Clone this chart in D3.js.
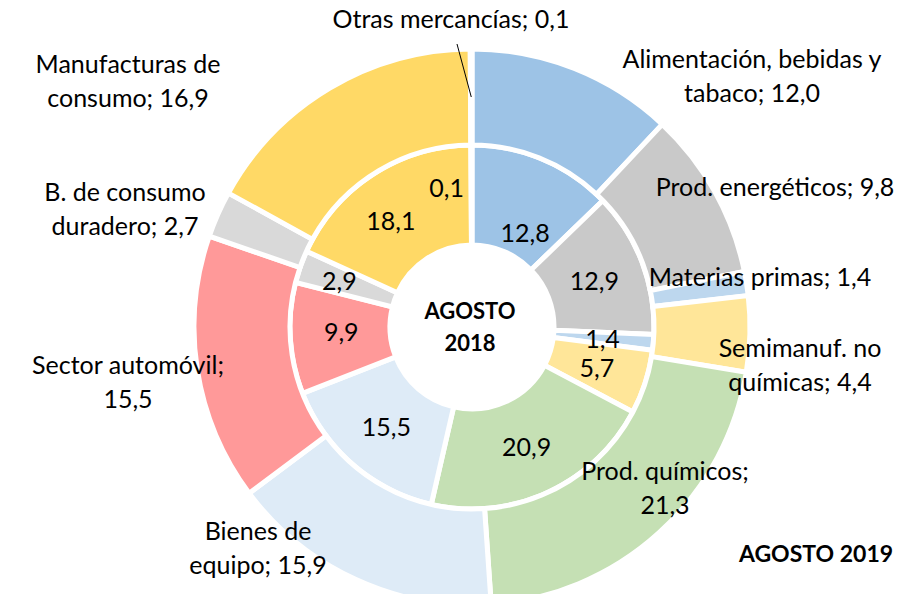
<!DOCTYPE html>
<html>
<head>
<meta charset="utf-8">
<script src="https://cdn.jsdelivr.net/npm/d3@7"></script>
<style>
	body { margin: 0; background: #fff; }
	svg text { font-family: Lato, "Open Sans", sans-serif; fill: #000; }
</style>
</head>
<body>
<script>
var categories = ['Alimentación, bebidas y tabaco', 'Prod. energéticos', 'Materias primas', 'Semimanuf. no químicas', 'Prod. químicos', 'Bienes de equipo', 'Sector automóvil', 'B. de consumo duradero', 'Manufacturas de consumo', 'Otras mercancías'];
var values2018 = [12.8, 12.9, 1.4, 5.7, 20.9, 15.5, 9.9, 2.9, 18.1, 0.1];
var values2019 = [12.0, 9.8, 1.4, 4.4, 21.3, 15.9, 15.5, 2.7, 16.9, 0.1];
// outer label lines as they are broken in the chart
var outerLabelLines = [
	['Alimentación, bebidas y', 'tabaco; 12,0'],
	['Prod. energéticos; 9,8'],
	['Materias primas; 1,4'],
	['Semimanuf. no', 'químicas; 4,4'],
	['Prod. químicos;', '21,3'],
	['Bienes de', 'equipo; 15,9'],
	['Sector automóvil;', '15,5'],
	['B. de consumo', 'duradero; 2,7'],
	['Manufacturas de', 'consumo; 16,9'],
	['Otras mercancías; 0,1']
];
var innerTitle = ['AGOSTO', '2018'];
var outerTitle = 'AGOSTO 2019';

var colors = ['#9dc3e6', '#c9c9c9', '#bdd7ee', '#ffe699', '#c5e0b4', '#deebf7', '#ff9999', '#d9d9d9', '#ffd966', '#ffd966'];

// label layout (not data)
var outerLabelPos = [[752, 58], [775, 186], [760, 276], [800, 347], [665, 470], [258, 530], [128, 364], [125, 191], [128, 63], [451, 18]];
var innerLabelShift = [[2, 26], [0, 0], [0, 0], [0, 0], [0, 0], [0, 0], [0, -4], [-9, -3], [-10, 3], [-25, -9]];

var width = 917, height = 594;
var cx = 472, cy = 327;
var fontSize = 25, lineH = 33.5;

var svg = d3.select('body')
	.append('svg')
	.attr('width', width)
	.attr('height', height);

var g = svg.append('g')
	.attr('transform', 'translate(' + cx + ',' + cy + ')');

var pie = d3.pie()
	.sort(null)
	.value(function(d) { return d; });

var innerArc = d3.arc().innerRadius(82).outerRadius(182);
var outerArc = d3.arc().innerRadius(182).outerRadius(278);
var labelArc = d3.arc().innerRadius(131).outerRadius(131);

var innerData = pie(values2018);
var outerData = pie(values2019);

g.selectAll('path.inner')
	.data(innerData)
	.enter()
	.append('path')
	.attr('class', 'inner')
	.attr('d', innerArc)
	.attr('fill', function(d, i) { return colors[i]; })
	.attr('stroke', '#fff')
	.attr('stroke-width', 5);

g.selectAll('path.outer')
	.data(outerData)
	.enter()
	.append('path')
	.attr('class', 'outer')
	.attr('d', outerArc)
	.attr('fill', function(d, i) { return colors[i]; })
	.attr('stroke', '#fff')
	.attr('stroke-width', 5);

// inner value labels
g.selectAll('text.inner-label')
	.data(innerData)
	.enter()
	.append('text')
	.attr('class', 'inner-label')
	.attr('text-anchor', 'middle')
	.attr('dominant-baseline', 'central')
	.attr('font-size', fontSize)
	.attr('x', function(d, i) { return labelArc.centroid(d)[0] + innerLabelShift[i][0]; })
	.attr('y', function(d, i) { return labelArc.centroid(d)[1] + innerLabelShift[i][1]; })
	.text(function(d) { return d3.format('.1f')(d.data).replace('.', ','); });

// outer labels
var outerLabels = svg.selectAll('text.outer-label')
	.data(outerLabelLines)
	.enter()
	.append('text')
	.attr('class', 'outer-label')
	.attr('text-anchor', 'middle')
	.attr('font-size', fontSize)
	.attr('transform', function(d, i) { return 'translate(' + outerLabelPos[i][0] + ',' + outerLabelPos[i][1] + ')'; });

outerLabels.selectAll('tspan')
	.data(function(d) { return d; })
	.enter()
	.append('tspan')
	.attr('x', 0)
	.attr('y', function(d, i) { return i * lineH; })
	.attr('dominant-baseline', 'central')
	.text(function(d) { return d; });

// leader line for the tiny slice
var tiny = outerData[9];
var tinyAngle = (tiny.startAngle + tiny.endAngle) / 2;
svg.append('line')
	.attr('x1', 457)
	.attr('y1', 44)
	.attr('x2', cx + Math.sin(tinyAngle) * 230)
	.attr('y2', cy - Math.cos(tinyAngle) * 230)
	.attr('stroke', '#000')
	.attr('stroke-width', 1);

// centre title
g.selectAll('text.title')
	.data(innerTitle)
	.enter()
	.append('text')
	.attr('class', 'title')
	.attr('text-anchor', 'middle')
	.attr('dominant-baseline', 'central')
	.attr('font-size', 22)
	.attr('font-weight', 'bold')
	.attr('x', -2)
	.attr('y', function(d, i) { return -17 + i * 32; })
	.text(function(d) { return d; });

svg.append('text')
	.attr('text-anchor', 'middle')
	.attr('dominant-baseline', 'central')
	.attr('font-size', 23)
	.attr('font-weight', 'bold')
	.attr('x', 816)
	.attr('y', 553)
	.text(outerTitle);
</script>
</body>
</html>
